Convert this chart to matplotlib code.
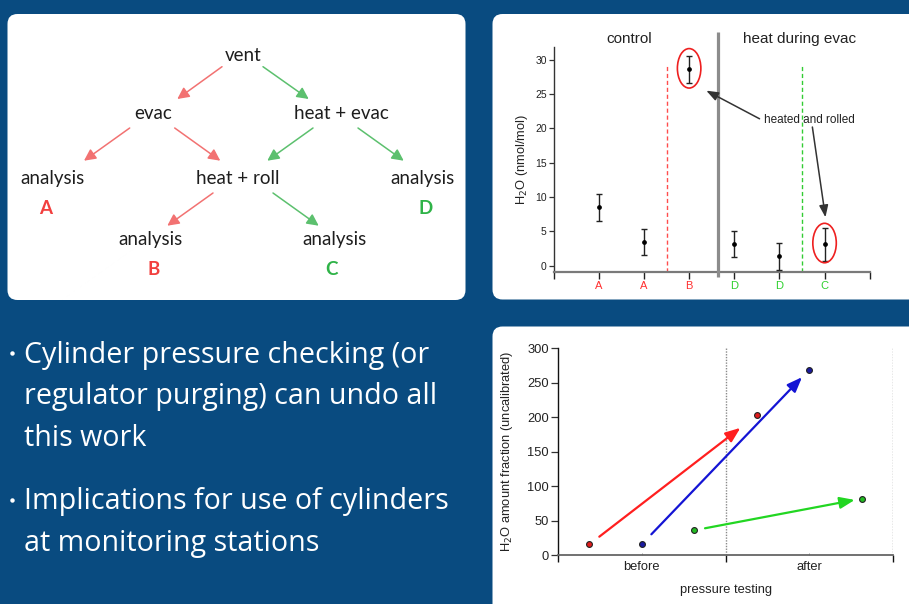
import matplotlib
matplotlib.use("Agg")
import matplotlib.pyplot as plt
from matplotlib.patches import FancyBboxPatch, Ellipse

W, H = 909, 604
BG = "#094b80"
RED_TXT, GREEN_TXT = "#f2403f", "#2fb348"
RED_ARR, GREEN_ARR = "#f27272", "#5cc06e"

# ---- process tree ----
tree_nodes = ["vent", "evac", "heat + evac", "analysis", "heat + roll",
              "analysis", "analysis", "analysis"]
tree_results = ["A", "D", "B", "C"]

# ---- water after cylinder preparation ----
top_labels = ["A", "A", "B", "D", "D", "C"]
top_values = [8.5, 3.45, 28.6, 3.2, 1.35, 3.15]
top_errors = [1.95, 1.95, 2.0, 1.9, 1.95, 2.4]
top_groups = ["control", "heat during evac"]
top_yticks = [0, 5, 10, 15, 20, 25, 30]
top_note = "heated and rolled"

# ---- water before / after pressure testing ----
stages = ["before", "after"]
red_vals = [15.5, 203]
blue_vals = [15.5, 269]
green_vals = [35.8, 81.8]
bottom_yticks = [0, 50, 100, 150, 200, 250, 300]

bullets = [
    ["Cylinder pressure checking (or", "regulator purging) can undo all", "this work"],
    ["Implications for use of cylinders", "at monitoring stations"],
]

fig = plt.figure(figsize=(W / 100, H / 100), dpi=100)
fig.patch.set_facecolor(BG)

bg = fig.add_axes([0, 0, 1, 1])
bg.set_xlim(0, W)
bg.set_ylim(H, 0)
bg.axis("off")

# white panels
for (x0, y0, x1, y1) in [(7.5, 14, 465.5, 300), (492.5, 14, 925, 299.5),
                         (492.5, 326.5, 925, 625)]:
    bg.add_patch(FancyBboxPatch((x0, y0), x1 - x0, y1 - y0,
                                boxstyle="round,pad=0,rounding_size=10",
                                fc="white", ec="none"))

# tree diagram text
tf = dict(family=["Lato", "DejaVu Sans"], color="#1e1e1e", fontsize=13.5,
          ha="center", va="baseline")
node_pos = [(243, 61), (153, 119), (341.5, 119), (52.5, 184), (238, 184),
            (422.5, 184), (150.5, 245.5), (334.5, 245.5)]
for name, (x, y) in zip(tree_nodes, node_pos):
    bg.text(x, y, name, **tf)
res_pos = [(45.5, 214), (425.5, 214), (153.5, 275), (331, 275)]
res_col = [RED_TXT, GREEN_TXT, RED_TXT, GREEN_TXT]
for r, (x, y), c in zip(tree_results, res_pos, res_col):
    bg.text(x, y, r, family=["Lato", "DejaVu Sans"], fontsize=13.5,
            fontweight="bold", color=c, ha="center", va="baseline")

tree_arrows = [((222, 66.7), (177.3, 99), RED_ARR),
               ((263, 66.7), (308.7, 99), GREEN_ARR),
               ((129.7, 128), (84, 160.7), RED_ARR),
               ((174.7, 128), (220.3, 160.7), RED_ARR),
               ((313, 128), (267.3, 160.7), GREEN_ARR),
               ((358, 128), (403.7, 160.7), GREEN_ARR),
               ((213, 193), (167.3, 225.7), RED_ARR),
               ((273, 193), (318.7, 225.7), GREEN_ARR)]
for tail, tip, c in tree_arrows:
    bg.annotate("", xy=tip, xytext=tail,
                arrowprops=dict(arrowstyle="-|>,head_length=0.7,head_width=0.35",
                                color=c, lw=1.1, shrinkA=0, shrinkB=0,
                                mutation_scale=10))

# bullet list
bf = dict(family=["Open Sans", "DejaVu Sans"], color="white", fontsize=20.6,
          va="baseline", ha="left")
starts = [362.5, 509.5]
for para, y0 in zip(bullets, starts):
    bg.plot([12], [y0 - 9.5], "o", ms=3.2, color="white", mew=0)
    for i, line in enumerate(para):
        bg.text(24.5, y0 + i * 41.8, line, **bf)

# ---- top chart ----
cf = ["Liberation Sans", "DejaVu Sans"]
ax1 = fig.add_axes([553.7 / W, 1 - 271.7 / H, 316 / W, 225 / H])
ax1.set_facecolor("none")
ax1.set_xlim(0, 7)
ax1.set_ylim(-0.875, 31.9)
for s in ("top", "right"):
    ax1.spines[s].set_visible(False)
ax1.spines["left"].set_color("#333333")
ax1.spines["left"].set_linewidth(1.0)
ax1.spines["bottom"].set_color("#7a7a7a")
ax1.spines["bottom"].set_linewidth(1.6)

xs = list(range(1, len(top_labels) + 1))
ax1.set_xticks([0] + xs + [len(top_labels) + 1])
ax1.set_xticklabels([""] + top_labels + [""], family=cf, fontsize=8)
for lab, t in zip(top_labels, ax1.get_xticklabels()[1:-1]):
    t.set_color("#ff3030" if lab in ("A", "B") else "#2ed02e")
ax1.tick_params(axis="x", direction="out", length=5, width=1, color="#222222", pad=1.5)
ax1.set_yticks(top_yticks)
ax1.set_yticklabels([str(v) for v in top_yticks], family=cf, fontsize=7.5, color="#222222")
ax1.tick_params(axis="y", direction="out", length=3.5, width=0.9, color="#333333", pad=1.5)
ax1.set_ylabel("H$_2$O (nmol/mol)", family=cf, fontsize=9.3, color="#222222", labelpad=4)

ax1.errorbar(xs, top_values, yerr=top_errors, fmt="o", ms=2.4, color="black",
             ecolor="#222222", elinewidth=1.0, capsize=2.4, capthick=1.0, zorder=4)

ax1.vlines(2.5, -0.875, 29.1, colors="#ff4d4d", linestyles=(0, (3, 2)), lw=1.0)
ax1.vlines(5.5, -0.875, 29.1, colors="#33cc33", linestyles=(0, (3, 2)), lw=1.0)
ax1.vlines(3.65, -1.6, 34.0, colors="#8c8c8c", lw=2.3, clip_on=False, zorder=3)

ax1.text(1.67, 33.0, top_groups[0], family=cf, fontsize=11, color="#222222",
         ha="center", va="center", clip_on=False)
ax1.text(5.45, 33.0, top_groups[1], family=cf, fontsize=11, color="#222222",
         ha="center", va="center", clip_on=False)

for idx in (2, 5):
    ax1.add_patch(Ellipse((xs[idx], top_values[idx] + 0.15), 0.52, 5.75,
                          fc="none", ec="#ee2020", lw=1.2, zorder=5))

ax1.text(5.66, 21.15, top_note, family=cf, fontsize=8.5, color="#222222",
         ha="center", va="center", zorder=6)
note_arrow = dict(arrowstyle="-|>,head_length=0.8,head_width=0.3", color="#333333",
                  lw=1.1, shrinkA=0, shrinkB=0, mutation_scale=9)
ax1.annotate("", xy=(3.38, 25.5), xytext=(4.56, 21.4), arrowprops=note_arrow)
ax1.annotate("", xy=(6.02, 7.05), xytext=(5.73, 20.2), arrowprops=note_arrow)

# ---- bottom chart ----
ax2 = fig.add_axes([558 / W, 1 - 555 / H, 335 / W, 206.7 / H])
ax2.set_facecolor("none")
ax2.set_xlim(0, 2)
ax2.set_ylim(0, 300)
for s in ("top", "right"):
    ax2.spines[s].set_visible(False)
ax2.spines["left"].set_color("#111111")
ax2.spines["left"].set_linewidth(1.0)
ax2.spines["left"].set_bounds(0, 300)
ax2.spines["bottom"].set_color("#666666")
ax2.spines["bottom"].set_linewidth(1.3)
ax2.set_yticks(bottom_yticks)
ax2.set_yticklabels([str(v) for v in bottom_yticks], family=cf, fontsize=9.3,
                    color="#222222")
ax2.tick_params(axis="y", direction="out", length=5, width=0.9, color="#333333", pad=1.5)
centers = [0.5 + i for i in range(len(stages))]
ax2.set_xticks(centers)
ax2.set_xticklabels(stages, family=cf, fontsize=9.3, color="#222222")
ax2.tick_params(axis="x", which="major", direction="in", length=1.5, width=0.6,
                color="#888888", pad=4.5)
ax2.set_xticks([0, 1, 2], minor=True)
ax2.tick_params(axis="x", which="minor", direction="out", length=5, width=1.0,
                color="#111111")
ax2.set_xlabel("pressure testing", family=cf, fontsize=9.3, color="#222222", labelpad=8)
ax2.set_ylabel("H$_2$O amount fraction (uncalibrated)", family=cf, fontsize=9.3,
               color="#222222", labelpad=9)
ax2.vlines([1, 2], 0, 300, colors="#8a8a8a", linestyles=(0, (1, 1)), lw=1.0)

offset = 0.3125
series = [(red_vals, -offset, "#e01c1c", "#ff1f1f", 9, 15),
          (blue_vals, 0.0, "#1a1aa0", "#1414d4", 10, 7.5),
          (green_vals, offset, "#22bb22", "#22d622", 8, 5)]
for vals, dx, mc, ac, sa, sb in series:
    px = [c + dx for c in centers]
    ax2.annotate("", xy=(px[1], vals[1]), xytext=(px[0], vals[0]),
                 arrowprops=dict(arrowstyle="-|>,head_length=0.9,head_width=0.35",
                                 color=ac, lw=1.6, shrinkA=sa, shrinkB=sb,
                                 mutation_scale=10), zorder=3)
    ax2.plot(px, vals, "o", ms=4.2, mfc=mc, mec="#222222", mew=0.8, ls="none", zorder=4)

fig.savefig("out.png", dpi=100, facecolor=BG)
